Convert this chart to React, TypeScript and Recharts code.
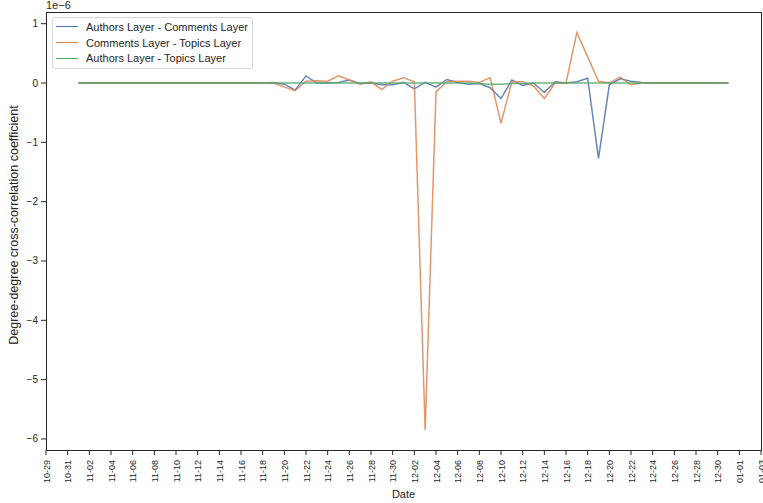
import { LineChart, Line, XAxis, YAxis } from "recharts";

// daily observation dates
const dates = [
  "2019-11-01", "2019-11-02", "2019-11-03", "2019-11-04", "2019-11-05", "2019-11-06",
  "2019-11-07", "2019-11-08", "2019-11-09", "2019-11-10", "2019-11-11", "2019-11-12",
  "2019-11-13", "2019-11-14", "2019-11-15", "2019-11-16", "2019-11-17", "2019-11-18",
  "2019-11-19", "2019-11-20", "2019-11-21", "2019-11-22", "2019-11-23", "2019-11-24",
  "2019-11-25", "2019-11-26", "2019-11-27", "2019-11-28", "2019-11-29", "2019-11-30",
  "2019-12-01", "2019-12-02", "2019-12-03", "2019-12-04", "2019-12-05", "2019-12-06",
  "2019-12-07", "2019-12-08", "2019-12-09", "2019-12-10", "2019-12-11", "2019-12-12",
  "2019-12-13", "2019-12-14", "2019-12-15", "2019-12-16", "2019-12-17", "2019-12-18",
  "2019-12-19", "2019-12-20", "2019-12-21", "2019-12-22", "2019-12-23", "2019-12-24",
  "2019-12-25", "2019-12-26", "2019-12-27", "2019-12-28", "2019-12-29", "2019-12-30",
  "2019-12-31",
];

// coefficients, in units of 1e-6
const authorsComments = [
  0, 0, 0, 0, 0, 0, 0, 0, 0, 0, 0, 0, 0, 0, 0, 0, 0, 0,
  0.01, -0.02, -0.12, 0.12, 0.0, 0.0, 0.01, 0.05, -0.01, 0.0, -0.03, -0.03,
  0.01, -0.1, 0.01, -0.07, 0.06, 0.01, -0.02, -0.01, -0.08, -0.26, 0.05, -0.04,
  0.0, -0.16, 0.02, 0.0, 0.02, 0.08, -1.27, -0.03, 0.07, 0.03, 0.01,
  0, 0, 0, 0, 0, 0, 0, 0,
];

const commentsTopics = [
  0, 0, 0, 0, 0, 0, 0, 0, 0, 0, 0, 0, 0, 0, 0, 0, 0, 0,
  0.0, -0.07, -0.13, 0.03, 0.04, 0.03, 0.12, 0.05, -0.02, 0.02, -0.11, 0.03,
  0.09, 0.02, -5.85, -0.15, 0.02, 0.03, 0.03, 0.01, 0.09, -0.68, 0.02, 0.02,
  -0.05, -0.26, 0.0, 0.0, 0.85, 0.44, 0.03, 0.0, 0.1, -0.03, 0.0,
  0, 0, 0, 0, 0, 0, 0, 0,
];

const authorsTopics = [
  0, 0, 0, 0, 0, 0, 0, 0, 0, 0, 0, 0, 0, 0, 0, 0, 0, 0,
  0, 0, 0, 0, 0, 0, 0, 0, 0, 0, 0, 0,
  0, 0, 0, 0, 0, 0, 0, -0.01, -0.02, -0.02, -0.01, -0.01,
  0, 0, 0, 0, 0, 0, 0, 0, 0, 0, 0,
  0, 0, 0, 0, 0, 0, 0, 0,
];

const xTickLabels = [
  "10-29", "10-31", "11-02", "11-04", "11-06", "11-08", "11-10", "11-12", "11-14",
  "11-16", "11-18", "11-20", "11-22", "11-24", "11-26", "11-28", "11-30", "12-02",
  "12-04", "12-06", "12-08", "12-10", "12-12", "12-14", "12-16", "12-18", "12-20",
  "12-22", "12-24", "12-26", "12-28", "12-30", "01-01", "01-03",
];

const yTicks = [-6, -5, -4, -3, -2, -1, 0, 1];

const seriesNames = [
  "Authors Layer - Comments Layer",
  "Comments Layer - Topics Layer",
  "Authors Layer - Topics Layer",
];
const colors = ["#4c72b0", "#dd8452", "#55a868"];

const toTime = (s: string) => Date.parse(s + "T00:00:00Z");
const tickTime = (md: string) => {
  const [m, d] = md.split("-").map(Number);
  return Date.UTC(m >= 10 ? 2019 : 2020, m - 1, d);
};

const data = dates.map((d, i) => ({
  t: toTime(d),
  ac: authorsComments[i],
  ct: commentsTopics[i],
  at: authorsTopics[i],
}));

const xTicks = xTickLabels.map(tickTime);
const labelFor = new Map(xTicks.map((t, i) => [t, xTickLabels[i]]));

const FONT = "'Liberation Sans', Arial, sans-serif";
const INK = "#262626";

const W = 763;
const H = 503;
const PLOT = { left: 46, top: 12, right: 761, bottom: 450 };

function DateTick(props: any) {
  const { x, y, payload } = props;
  return (
    <text
      x={0}
      y={0}
      transform={`translate(${x + 3.5},${y + 3}) rotate(-90)`}
      textAnchor="end"
      fontSize={9}
      fontFamily={FONT}
      fill={INK}
    >
      {labelFor.get(payload.value)}
    </text>
  );
}

function ValueTick(props: any) {
  const { x, y, payload } = props;
  const v = payload.value as number;
  return (
    <text x={x - 1} y={y + 3.5} textAnchor="end" fontSize={10} fontFamily={FONT} fill={INK}>
      {v < 0 ? `\u2212${-v}` : `${v}`}
    </text>
  );
}

function LegendBox() {
  return (
    <div
      style={{
        position: "absolute",
        left: 52,
        top: 17,
        border: "1px solid #d9d9d9",
        borderRadius: 3,
        background: "rgba(255,255,255,0.8)",
        padding: "1px 4px 2px 3px",
        fontFamily: FONT,
        fontSize: 11,
        color: INK,
      }}
    >
      {seriesNames.map((name, i) => (
        <div key={name} style={{ display: "flex", alignItems: "center", height: 15.7 }}>
          <span
            style={{
              display: "inline-block",
              width: 22,
              height: 0,
              borderTop: `1.5px solid ${colors[i]}`,
              marginRight: 8,
            }}
          />
          <span>{name}</span>
        </div>
      ))}
    </div>
  );
}

export default function App() {
  return (
    <div style={{ position: "absolute", left: 0, top: 0, width: W, height: H, background: "#fff" }}>
      <LineChart
        width={W}
        height={H}
        data={data}
        margin={{ top: PLOT.top, right: W - PLOT.right, bottom: 0, left: 0 }}
      >
        <XAxis
          dataKey="t"
          type="number"
          scale="time"
          domain={[tickTime("10-29"), tickTime("01-03")]}
          ticks={xTicks}
          interval={0}
          height={H - PLOT.bottom}
          axisLine={false}
          tickSize={5}
          tickLine={{ stroke: INK, strokeWidth: 1 }}
          tick={<DateTick />}
        />
        <YAxis
          type="number"
          domain={[-6.186, 1.197]}
          ticks={yTicks}
          allowDataOverflow
          width={PLOT.left}
          axisLine={false}
          tickSize={5}
          tickLine={{ stroke: INK, strokeWidth: 1 }}
          tick={<ValueTick />}
        />
        <Line
          dataKey="ac"
          name={seriesNames[0]}
          stroke={colors[0]}
          strokeOpacity={0.85}
          strokeWidth={1.5}
          dot={false}
          isAnimationActive={false}
        />
        <Line
          dataKey="ct"
          name={seriesNames[1]}
          stroke={colors[1]}
          strokeOpacity={0.85}
          strokeWidth={1.5}
          dot={false}
          isAnimationActive={false}
        />
        <Line
          dataKey="at"
          name={seriesNames[2]}
          stroke={colors[2]}
          strokeOpacity={0.85}
          strokeWidth={1.5}
          dot={false}
          isAnimationActive={false}
        />
      </LineChart>

      {/* axes frame on all four sides */}
      <div
        style={{
          position: "absolute",
          left: PLOT.left - 0.5,
          top: PLOT.top - 0.5,
          width: PLOT.right - PLOT.left + 1,
          height: PLOT.bottom - PLOT.top + 1,
          border: `1.2px solid ${INK}`,
          boxSizing: "border-box",
          pointerEvents: "none",
        }}
      />

      <LegendBox />

      <div
        style={{
          position: "absolute",
          left: PLOT.left,
          top: -1,
          fontFamily: FONT,
          fontSize: 11,
          color: INK,
        }}
      >
        1e{"\u2212"}6
      </div>

      <div
        style={{
          position: "absolute",
          left: 14,
          top: 225,
          transform: "translate(-50%, -50%) rotate(-90deg)",
          whiteSpace: "nowrap",
          fontFamily: FONT,
          fontSize: 12.5,
          color: INK,
        }}
      >
        Degree-degree cross-correlation coefficient
      </div>

      <div
        style={{
          position: "absolute",
          left: (PLOT.left + PLOT.right) / 2,
          top: 488,
          transform: "translateX(-50%)",
          fontFamily: FONT,
          fontSize: 11,
          color: INK,
        }}
      >
        Date
      </div>
    </div>
  );
}
